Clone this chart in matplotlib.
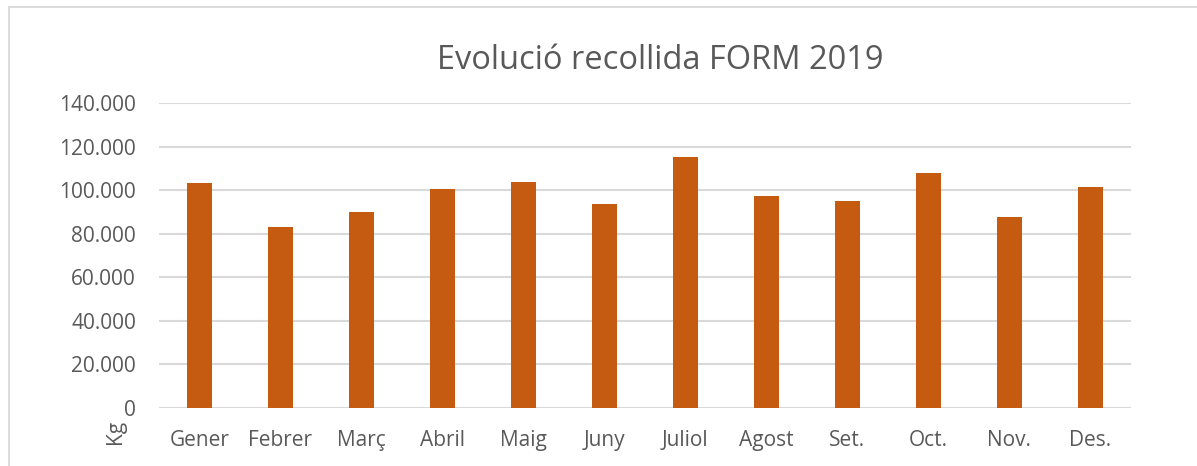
import numpy as np
import matplotlib.pyplot as plt
from matplotlib.lines import Line2D
from matplotlib.ticker import FuncFormatter

# monthly collection (kg)
months = ["Gener", "Febrer", "Març", "Abril", "Maig", "Juny",
          "Juliol", "Agost", "Set.", "Oct.", "Nov.", "Des."]
kg = [103500, 83100, 90000, 100600, 103700, 93700,
      115300, 97400, 94900, 108000, 87700, 101400]
yticks = [0, 20000, 40000, 60000, 80000, 100000, 120000, 140000]

W, H = 1197, 466
barColor = "#C55A11"
textColor = "#595959"
gridColor = "#D9D9D9"

plt.rcParams['font.family'] = ['Open Sans', 'DejaVu Sans']

fig = plt.figure(figsize=(W / 100, H / 100), dpi=100)
ax = fig.add_axes([159 / W, 1 - 407.7 / H, (1130.7 - 159) / W, (407.7 - 103.3) / H])

x = np.arange(len(months))
ax.bar(x, kg, width=0.31, color=barColor, zorder=3)

ax.set_xlim(-0.5, len(months) - 0.5)
ax.set_ylim(0, 140000)
ax.set_yticks(yticks)
ax.yaxis.set_major_formatter(FuncFormatter(lambda v, p: f"{int(v):,}".replace(",", ".")))
ax.set_xticks(x)
ax.set_xticklabels(months)

ax.grid(axis='y', color=gridColor, linewidth=1.5, zorder=0)
for s in ax.spines.values():
    s.set_visible(False)
ax.tick_params(axis='both', length=0, labelsize=15, labelcolor=textColor)
ax.tick_params(axis='y', pad=16.5)
ax.tick_params(axis='x', pad=16)

# title and unit label
fig.text(660 / W, 1 - 69 / H, "Evolució recollida FORM 2019", ha='center', va='baseline',
         fontsize=23.5, color=textColor)
fig.text(116 / W, 1 - 432 / H, "Kg", rotation=90, ha='center', va='center',
         fontsize=15, color=textColor)

# chart border (left and top edges)
fig.add_artist(Line2D([8.8 / W, 8.8 / W], [0, 1 - 6.8 / H], color=gridColor, lw=1.3,
                      transform=fig.transFigure))
fig.add_artist(Line2D([8.8 / W, 1], [1 - 6.8 / H, 1 - 6.8 / H], color=gridColor, lw=1.3,
                      transform=fig.transFigure))

fig.savefig("out.png", dpi=100, facecolor="white")
